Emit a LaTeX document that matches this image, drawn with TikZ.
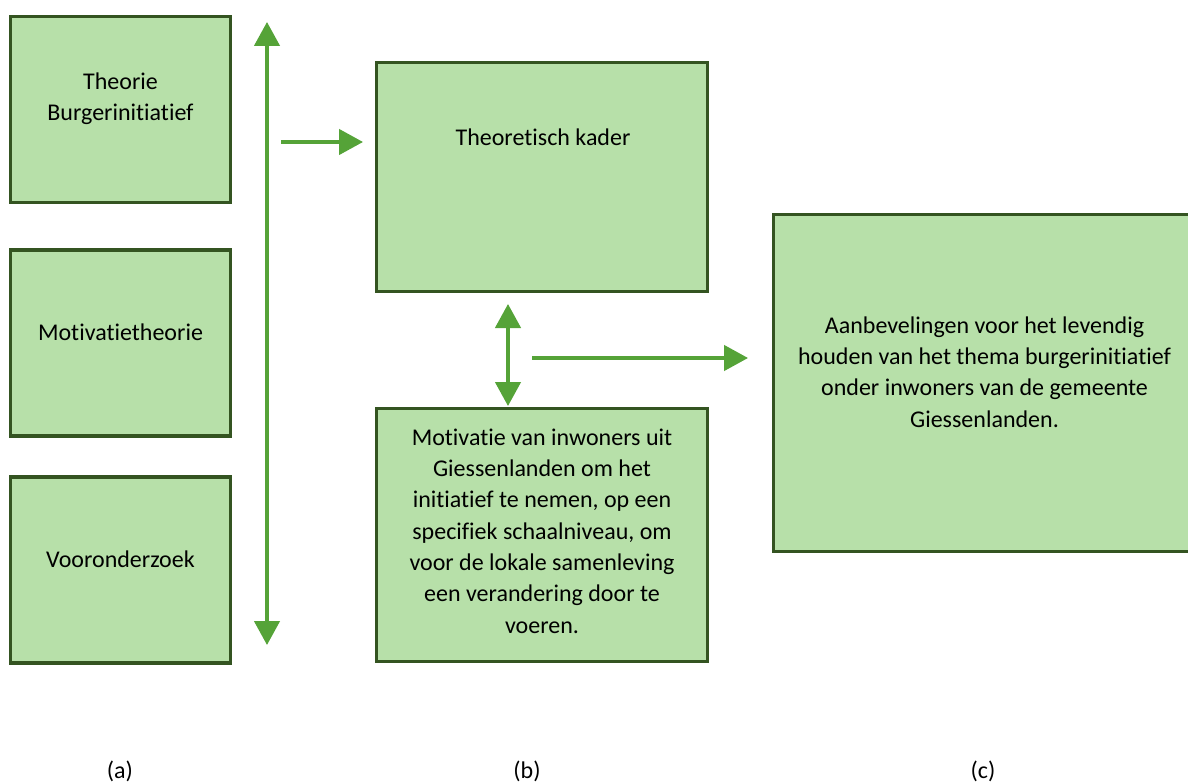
\documentclass[tikz,border=0pt]{standalone}
\usepackage{fontspec}
\setmainfont{Carlito}[Ligatures={NoCommon,NoContextual,NoRequired},Contextuals=NoAlternate]
\usetikzlibrary{positioning}
\usetikzlibrary{arrows.meta}

\definecolor{boxfill}{RGB}{183,224,169}
\definecolor{boxline}{RGB}{52,84,33}
\definecolor{arrowgreen}{RGB}{85,163,56}

\tikzset{
  box/.style={draw=boxline, fill=boxfill, line width=2.4pt, inner sep=0pt},
  txt/.style={align=center, inner sep=0pt, font=\fontsize{18}{23.5}\selectfont},
  arr/.style={draw=arrowgreen, line width=2.6pt, -{Triangle[length=18pt,width=19pt]}},
  darr/.style={arr, {Triangle[length=18pt,width=19pt]}-{Triangle[length=18pt,width=19pt]}}
}

\begin{document}
\begin{tikzpicture}[x=0.75pt,y=-0.75pt]
  \useasboundingbox (0,0) rectangle (1188,784);

  % left column: three boxes of the same size
  \foreach \y/\nm/\lbl in {109.5/a1/{Theorie\\Burgerinitiatief}, 343/a2/Motivatietheorie, 570/a3/Vooronderzoek}
    {\node[box, minimum width=165pt, minimum height=139.5pt] (\nm) at (120.5,\y) {};
     \node[txt] (\nm t) at (120.5,\y-11) {\lbl};}

  % middle column
  \node[box, minimum width=248.25pt, minimum height=171.75pt] (b1) at (542,177) {};
  \node[txt] (b1t) at (543,137) {Theoretisch kader};
  \node[box, minimum width=248.25pt, minimum height=189.75pt] (b2) at (542,535) {};
  \node[txt] (b2t) at (542,531) {Motivatie van inwoners uit\\Giessenlanden om het\\initiatief te nemen, op een\\specifiek schaalniveau, om\\voor de lokale samenleving\\een verandering door te\\voeren.};

  % right box, running off the page
  \node[box, minimum width=320pt, minimum height=252.75pt] (c1) at (986.75,383) {};
  \node[txt] (c1t) at (984.5,372) {Aanbevelingen voor het levendig\\houden van het thema burgerinitiatief\\onder inwoners van de gemeente\\Giessenlanden.};

  % arrow ends
  \coordinate (vtop) at (267,22);
  \coordinate (vbot) at (267,645);
  \coordinate (h1s) at (281,142);
  \coordinate (h1e) at (363,142);
  \coordinate (mtop) at (508,304);
  \coordinate (mbot) at (508,406);
  \coordinate (h2s) at (532,358);
  \coordinate (h2e) at (748,358);

  \draw[darr] (vtop) -- (vbot);
  \draw[arr] (h1s) -- (h1e);
  \draw[darr] (mtop) -- (mbot);
  \draw[arr] (h2s) -- (h2e);

  % captions
  \node[txt, anchor=base] (capa) at (120,778) {(a)};
  \node[txt, anchor=base] (capb) at (527,778) {(b)};
  \node[txt, anchor=base] (capc) at (983,778) {(c)};
\end{tikzpicture}
\end{document}
